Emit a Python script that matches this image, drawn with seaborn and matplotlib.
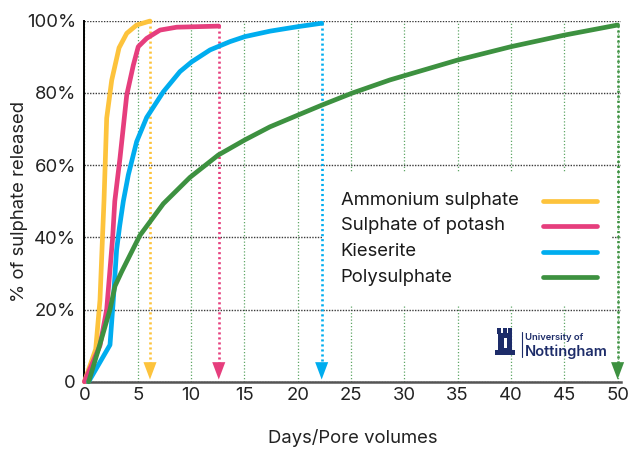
import numpy as np
import pandas as pd
import matplotlib
matplotlib.use('Agg')
import matplotlib.pyplot as plt
from matplotlib.patches import Rectangle
from matplotlib.lines import Line2D
import seaborn as sns

# release curves (x = days / pore volumes, y = % released)
ammonium_x = [0, 1.06, 1.46, 1.71, 1.84, 2.09, 2.56, 3.25, 3.97, 4.9, 6.15]
ammonium_y = [0, 9, 22.6, 41, 50.3, 73, 83.5, 92.5, 96.5, 98.8, 99.9]

potash_x = [0, 1.46, 2.09, 2.65, 2.85, 3.34, 3.97, 4.59, 5.05, 5.84, 7.09, 8.65, 12.6]
potash_y = [0, 10, 20, 40, 50, 62, 79.4, 87.7, 92.8, 95.1, 97.4, 98.2, 98.5]

kieserite_x = [0.4, 2.4, 2.71, 3.02, 3.3, 3.65, 4.12, 4.9, 5.84, 7.4, 8.96, 10.06,
               11.78, 13.65, 15.06, 17.4, 19.9, 22.25]
kieserite_y = [0, 10.2, 22.6, 36.5, 43, 50, 57.3, 66.5, 73.2, 80.3, 85.9, 88.6,
               91.9, 94.2, 95.6, 97.1, 98.3, 99.3]

poly_x = [0.4, 1.3, 2.4, 2.87, 3.5, 4.28, 5.2, 7.4, 9.9, 12.56, 15.06, 17.4,
          20.06, 22.25, 25.07, 28.66, 35.0, 40.0, 45.0, 50.0]
poly_y = [0, 8.8, 20, 26.5, 30.5, 35.1, 40.5, 49.3, 56.6, 62.8, 67.0, 70.6,
          73.9, 76.6, 79.9, 83.6, 89.1, 92.8, 96.0, 98.8]

labels = ['Ammonium sulphate', 'Sulphate of potash', 'Kieserite', 'Polysulphate']
colors = ['#FDC33C', '#E63E7D', '#00ADEF', '#3D9140']
series = [(ammonium_x, ammonium_y), (potash_x, potash_y),
          (kieserite_x, kieserite_y), (poly_x, poly_y)]

x_ticks = list(range(0, 51, 5))
y_ticks = [0, 20, 40, 60, 80, 100]
y_ticklabels = ['0', '20%', '40%', '60%', '80%', '100%']

sns.set_style('white')
plt.rcParams['font.family'] = ['Inter', 'DejaVu Sans']
FS = 13.3

W, H = 628, 449
fig = plt.figure(figsize=(W / 100, H / 100), dpi=100)

# axes placed in pixels: x=0 at 84.4px, 10.664 px per unit; y=0 at 381.7px, 3.61 px per %
X0, PXU = 84.4, 10.664
Y0, PYU = 381.7, 3.61
XMAX = 50.3
ax = fig.add_axes([X0 / W, (H - Y0) / H, XMAX * PXU / W, 100 * PYU / H])


def ax_frac(px, py):
    # pixel position in the image -> axes fraction
    return (px - X0) / (XMAX * PXU), (Y0 - py) / (100 * PYU)


for (xs, ys), c in zip(series, colors):
    df = pd.DataFrame({'x': xs, 'y': ys})
    sns.lineplot(data=df, x='x', y='y', color=c, lw=3.4, ax=ax, sort=False,
                 clip_on=False, zorder=5, legend=False, solid_joinstyle='round')
    # dotted drop line and arrow head at the end of each curve
    ax.plot([xs[-1], xs[-1]], [ys[-1], 4], color=c, lw=1.9,
            ls=(0, (0.8, 1.1)), zorder=4, clip_on=False)
    ax.annotate('', xy=(xs[-1], 0.6), xytext=(xs[-1], 5.5),
                arrowprops=dict(arrowstyle='-|>,head_length=1.25,head_width=0.47',
                                color=c, lw=0, mutation_scale=10,
                                shrinkA=0, shrinkB=0), zorder=4)

ax.set_xlim(0, XMAX)
ax.set_ylim(0, 100)
ax.set_xticks(x_ticks)
ax.set_yticks(y_ticks)
ax.set_yticklabels(y_ticklabels)
ax.tick_params(axis='both', length=0, labelsize=FS, colors='#222222')
ax.tick_params(axis='x', pad=4)
ax.tick_params(axis='y', pad=6)

ax.grid(axis='x', color='#5fa766', lw=0.9, ls=(0, (1, 1.6)))
ax.grid(axis='y', color='#3a3a3a', lw=1.0, ls=(0, (1, 1)))
ax.set_axisbelow(True)

for s in ['top', 'right']:
    ax.spines[s].set_visible(False)
ax.spines['left'].set_color('black')
ax.spines['left'].set_linewidth(1.4)
ax.spines['bottom'].set_color('#555555')
ax.spines['bottom'].set_linewidth(1.8)

ax.set_xlabel('Days/Pore volumes', fontsize=FS, labelpad=18, color='#222222')
ax.set_ylabel('% of sulphate released', fontsize=FS, labelpad=-1, color='#222222')

# legend: labels left, line samples right, on a white box over the grid
bx0, by0 = ax_frac(322, 306)
bx1, by1 = ax_frac(612, 172)
ax.add_patch(Rectangle((bx0, by0), bx1 - bx0, by1 - by0, transform=ax.transAxes,
                       facecolor='white', edgecolor='none', zorder=3))
row_py = [200.7, 226.0, 251.7, 277.3]
for lab, c, py in zip(labels, colors, row_py):
    tx, ty = ax_frac(340.7, py)
    ax.text(tx, ty, lab, transform=ax.transAxes, fontsize=FS, color='#1a1a1a',
            va='center', ha='left', zorder=6)
    hx0, _ = ax_frac(542.7, py)
    hx1, _ = ax_frac(596.7, py)
    ax.add_line(Line2D([hx0, hx1], [ty, ty], transform=ax.transAxes, color=c,
                       lw=3.4, zorder=6))

# University of Nottingham logo (approximate)
navy = '#1d2c69'


def fpx(px, py):
    return px / W, (H - py) / H


def frect(px0, py0, px1, py1, color):
    x, y = fpx(px0, py1)
    fig.add_artist(Rectangle((x, y), (px1 - px0) / W, (py1 - py0) / H,
                             transform=fig.transFigure, facecolor=color,
                             edgecolor='none', zorder=10))


frect(498, 333, 512, 351, navy)
for mx in [497, 502.5, 508]:
    frect(mx, 328, mx + 4, 334, navy)
frect(495, 350, 515, 355, navy)
frect(503.5, 338, 506.5, 348, 'white')
lx, ly0 = fpx(521.7, 332)
_, ly1 = fpx(521.7, 357)
fig.add_artist(Line2D([lx, lx], [ly0, ly1], transform=fig.transFigure,
                      color=navy, lw=0.8, zorder=10))
ux, uy = fpx(525, 338)
fig.text(ux, uy, 'University of', fontsize=6.8, fontweight='semibold',
         color=navy, va='center', ha='left', zorder=10)
nx, ny = fpx(524.5, 351.5)
fig.text(nx, ny, 'Nottingham', fontsize=10.5, fontweight='semibold',
         color=navy, va='center', ha='left', zorder=10)

fig.savefig('out.png', dpi=100)
